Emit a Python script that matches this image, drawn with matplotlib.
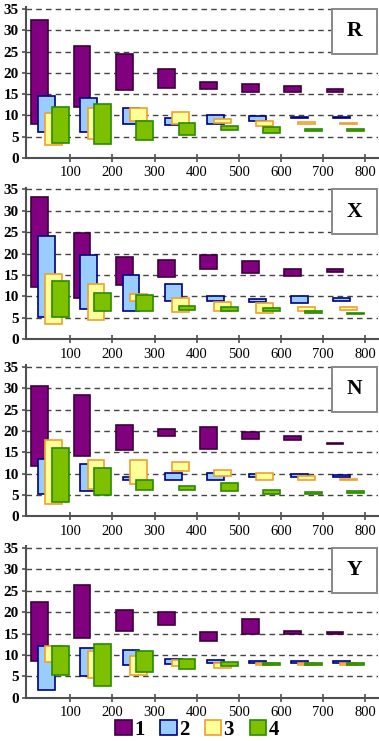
import matplotlib
matplotlib.use("Agg")
import matplotlib.pyplot as plt
import numpy as np
from matplotlib.patches import Rectangle

groups = np.arange(8) * 100
series = ["1", "2", "3", "4"]
offsets = [28, 44, 61, 77]
fills = ["#800080", "#99ccff", "#ffff99", "#7cc000"]
edges = ["#3c003c", "#00007f", "#eea030", "#2a8a00"]

# lows / highs per series (1..4), 8 groups each
R_low = [[8.0, 11.9, 16.0, 16.4, 16.2, 15.6, 15.6, 15.5],
         [6.0, 6.0, 8.1, 7.8, 8.0, 8.7, 9.3, 9.4],
         [3.0, 4.5, 8.8, 8.0, 8.3, 7.4, 8.0, 7.9],
         [3.6, 3.3, 4.2, 5.4, 6.6, 5.8, 6.4, 6.4]]
R_high = [[32.3, 26.2, 24.4, 20.9, 17.8, 17.3, 16.8, 16.1],
          [14.6, 14.2, 11.7, 9.3, 10.1, 9.9, 9.7, 9.7],
          [10.6, 11.7, 11.7, 10.9, 9.2, 8.8, 8.5, 8.3],
          [11.9, 12.8, 8.8, 8.3, 7.6, 7.2, 6.9, 6.9]]

X_low = [[12.3, 9.6, 12.6, 14.6, 16.3, 15.4, 14.8, 15.6],
         [5.3, 7.0, 6.5, 9.0, 9.0, 8.8, 8.4, 9.0],
         [3.6, 4.5, 8.9, 6.3, 6.5, 6.1, 6.5, 6.8],
         [5.1, 6.7, 6.6, 6.8, 6.6, 6.5, 6.1, 5.8]]
X_high = [[33.3, 24.9, 19.1, 18.4, 19.7, 18.3, 16.4, 16.3],
          [24.2, 19.7, 14.9, 12.8, 10.2, 9.4, 10.1, 9.6],
          [15.2, 12.9, 10.5, 9.6, 8.6, 8.4, 7.5, 7.5],
          [13.7, 10.7, 10.3, 7.7, 7.6, 7.2, 6.6, 6.2]]

N_low = [[11.9, 14.1, 15.6, 18.9, 15.8, 18.1, 18.0, 17.0],
         [5.2, 5.9, 8.4, 8.4, 8.6, 9.2, 9.2, 9.2],
         [3.0, 6.3, 7.6, 10.7, 9.4, 8.6, 8.6, 8.4],
         [3.4, 4.9, 6.1, 6.1, 5.9, 5.3, 5.2, 5.5]]
N_high = [[30.5, 28.4, 21.5, 20.5, 20.9, 19.7, 18.8, 17.3],
          [13.4, 12.3, 9.2, 10.2, 10.2, 10.0, 10.0, 9.6],
          [18.0, 13.1, 13.1, 12.7, 10.8, 10.2, 9.4, 8.8],
          [16.0, 11.3, 8.6, 7.0, 7.7, 6.1, 5.7, 5.9]]

Y_low = [[8.6, 13.9, 15.6, 16.9, 13.3, 15.0, 15.0, 15.0],
         [1.7, 5.1, 7.6, 7.9, 8.2, 8.2, 8.2, 8.2],
         [8.3, 4.7, 5.2, 7.4, 7.0, 7.6, 7.6, 7.6],
         [5.2, 2.7, 6.0, 6.6, 7.4, 7.6, 7.6, 7.6]]
Y_high = [[22.4, 26.3, 20.5, 20.1, 15.4, 18.5, 15.6, 15.4],
          [12.1, 11.7, 11.1, 9.1, 8.7, 8.6, 8.6, 8.6],
          [12.1, 10.9, 9.7, 8.8, 8.2, 8.2, 8.2, 8.2],
          [12.1, 12.6, 10.9, 9.1, 8.4, 8.2, 8.2, 8.0]]

panels = [("R", R_low, R_high), ("X", X_low, X_high),
          ("N", N_low, N_high), ("Y", Y_low, Y_high)]
# pixel rows of value 0 and value 35 for each panel
rows_px = [(158, 9), (339.3, 189.3), (516.3, 367), (697.7, 548)]

W, H = 379, 741
fig = plt.figure(figsize=(W / 100, H / 100), dpi=100)
serif = "Liberation Serif"
xmin, xmax, ymax = -5, 830, 35.4

handles = []
for (name, lows, highs), (y0, y35) in zip(panels, rows_px):
    hpx = (y0 - y35) * ymax / 35
    ax = fig.add_axes([26 / W, 1 - y0 / H, 352 / W, hpx / H])
    for i in range(4):
        lo = np.array(lows[i])
        hi = np.array(highs[i])
        bars = ax.bar(groups + offsets[i], hi - lo, bottom=lo, width=40,
                      color=fills[i], edgecolor=edges[i], linewidth=1.2,
                      label=series[i], zorder=2 + i)
        if name == "R":
            handles.append(bars)
    ax.set_xlim(xmin, xmax)
    ax.set_ylim(0, ymax)
    ax.set_xticks(range(100, 900, 100))
    ax.set_yticks(range(0, 40, 5))
    ax.yaxis.grid(True, linestyle=(0, (4, 3)), color="#444444", linewidth=1.0)
    ax.set_axisbelow(True)
    for side in ["top", "right"]:
        ax.spines[side].set_visible(False)
    for side in ["left", "bottom"]:
        ax.spines[side].set_color("#505050")
        ax.spines[side].set_linewidth(1.5)
    ax.tick_params(axis="y", direction="out", length=3, width=1.2,
                   color="#505050", pad=2)
    ax.tick_params(axis="x", direction="inout", length=6, width=1.2,
                   color="#505050", pad=3)
    for lab in ax.get_yticklabels():
        lab.set_fontfamily(serif)
        lab.set_fontweight("bold")
        lab.set_fontsize(11)
    for lab in ax.get_xticklabels():
        lab.set_fontfamily(serif)
        lab.set_fontsize(10.5)
    ax.add_patch(Rectangle((722, 24.5), 105, 10.5, facecolor="white",
                           edgecolor="#888888", linewidth=1.4, zorder=10,
                           clip_on=False))
    ax.text(774.5, 29.75, name, ha="center", va="center", fontfamily=serif,
            fontweight="bold", fontsize=15.5, zorder=11)

fig.legend(handles, series, loc="center", bbox_to_anchor=(0.52, 0.0155),
           ncol=4, frameon=False, handlelength=0.8, handleheight=0.75,
           handletextpad=0.1, columnspacing=0.75,
           prop={"family": serif, "weight": "bold", "size": 15})

fig.savefig("out.png", dpi=100)
